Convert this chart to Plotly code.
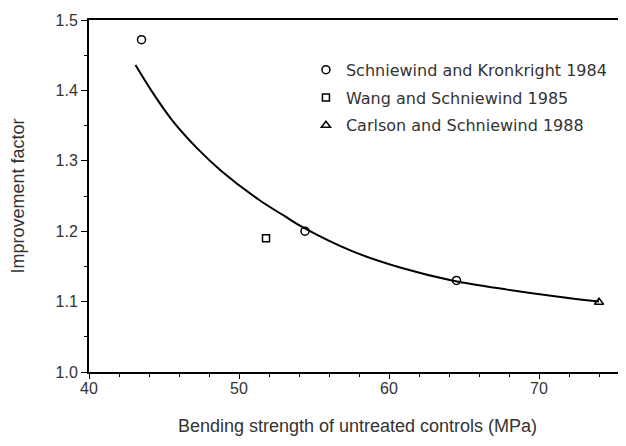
import plotly.graph_objects as go

# fitted curve
curve_x = [43.1, 44.3, 45.6, 47.2, 48.8, 51.3, 53.0, 54.3, 57.5, 60.8, 64.2, 67.9, 71.3, 74.0]
curve_y = [1.436, 1.395, 1.356, 1.318, 1.286, 1.245, 1.222, 1.205, 1.172, 1.148, 1.130, 1.117, 1.107, 1.100]

# measured points
kron_x = [43.5, 54.4, 64.5]
kron_y = [1.472, 1.200, 1.130]
wang_x = [51.8]
wang_y = [1.190]
carl_x = [74.0]
carl_y = [1.099]

font = dict(family="Liberation Sans, Arial, sans-serif", size=15, color="#333333")

fig = go.Figure()

fig.add_trace(go.Scatter(
    x=curve_x, y=curve_y, mode="lines", line=dict(color="black", width=2, shape="spline"),
    showlegend=False, hoverinfo="skip"))

fig.add_trace(go.Scatter(
    x=kron_x, y=kron_y, mode="markers", name="Schniewind and Kronkright 1984",
    legendgroup="a",
    marker=dict(symbol="circle-open", size=8, color="black", line=dict(width=1.5))))
fig.add_trace(go.Scatter(
    x=wang_x, y=wang_y, mode="markers", name="Wang and Schniewind 1985",
    legendgroup="b",
    marker=dict(symbol="square-open", size=7, color="black", line=dict(width=1.5))))
fig.add_trace(go.Scatter(
    x=carl_x, y=carl_y, mode="markers", name="Carlson and Schniewind 1988",
    legendgroup="c",
    marker=dict(symbol="triangle-up-open", size=8, color="black", line=dict(width=1.5))))

# page body adds an 8px offset, so margins are trimmed to land the frame where the original has it
fig.update_layout(
    width=626, height=446,
    margin=dict(l=81, r=8, t=12, b=82),
    plot_bgcolor="white", paper_bgcolor="white",
    font=font,
    legend=dict(x=0.404, y=0.907, xanchor="left", yanchor="top",
                bgcolor="rgba(0,0,0,0)", tracegroupgap=4, itemwidth=30,
                font=dict(family="DejaVu Sans", size=16, color="#333333")),
)

fig.update_xaxes(
    range=[40, 75.8], tickvals=[40, 50, 60, 70], showgrid=False, zeroline=False,
    showline=True, linecolor="black", linewidth=2, mirror=True, automargin=False,
    ticks="outside", ticklen=5, tickwidth=1, tickcolor="black",
    tickfont=dict(size=16), ticklabelstandoff=-4,
    minor=dict(dtick=2, ticks="outside", ticklen=3, tickcolor="black", showgrid=False),
    title=dict(text="Bending strength of untreated controls (MPa)", standoff=23),
)
fig.update_yaxes(
    range=[1.0, 1.5], tickvals=[1.0, 1.1, 1.2, 1.3, 1.4, 1.5], tickformat=".1f",
    showgrid=False, zeroline=False, automargin=False,
    showline=True, linecolor="black", linewidth=2,
    ticks="outside", ticklen=6, tickwidth=1, tickcolor="black",
    tickfont=dict(size=16),
    minor=dict(dtick=0.05, ticks="outside", ticklen=3, tickcolor="black", showgrid=False),
    title=dict(text="Improvement factor", standoff=28),
)

fig.write_html("out.html")
